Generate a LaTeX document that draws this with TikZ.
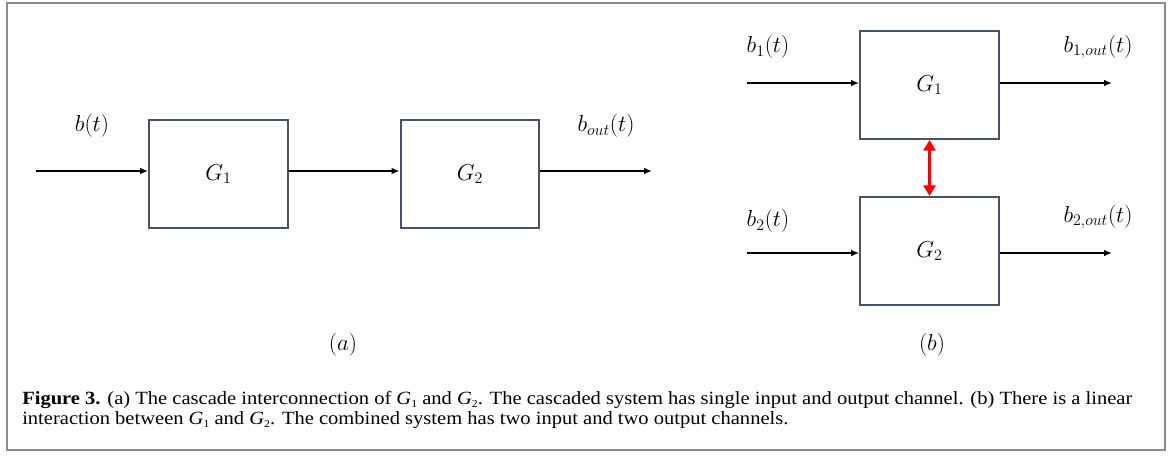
\documentclass[tikz,border=0pt]{standalone}
\usepackage{fontspec}
\setmainfont{Liberation Serif}
\usetikzlibrary{arrows.meta}

\definecolor{boxgray}{HTML}{44546A}
\newcommand{\capG}[1]{\textit{G}\raisebox{-0.35ex}{\footnotesize #1}}

\tikzset{
  blk/.style={draw=boxgray, line width=1.5pt, minimum width=104pt, minimum height=81pt, inner sep=0pt},
  sig/.style={line width=1.4pt, -{Latex[length=6pt,width=5pt]}},
  lbl/.style={font=\fontsize{17}{19}\selectfont},
  link/.style={red, line width=2.6pt, {Triangle[length=8pt,width=9pt]}-{Triangle[length=8pt,width=9pt]}}
}

\begin{document}
\begin{tikzpicture}[x=0.75pt, y=-0.75pt]
		%%%%% START %%%%%
		\useasboundingbox (0, 0) rectangle (1168, 455);
		\draw[line width=1.5pt, color=black!45] (7, 3) rectangle (1165, 450);
		
		% (a) cascade
		\node[blk, lbl] (G1a) at (218.5, 174) {$G_1$};
		\node[blk, lbl] (G2a) at (470, 174) {$G_2$};
		\coordinate (ina) at (36, 171);
		\coordinate (outa) at (652, 171);
		\draw[sig] (ina) -- (ina -| G1a.west);
		\draw[sig] (ina -| G1a.east) -- (ina -| G2a.west);
		\draw[sig] (ina -| G2a.east) -- (outa);
		\node[lbl] (bin) at (92, 126) {$b(t)$};
		\node[lbl] (bout) at (606, 126) {$b_{out}(t)$};
		\node[lbl] (taga) at (343, 345) {$(a)$};
		
		% (b) interaction
		\node[blk, lbl] (G1b) at (929.5, 85) {$G_1$};
		\node[blk, lbl] (G2b) at (929.5, 251) {$G_2$};
		\coordinate (in1) at (747, 83);
		\coordinate (out1) at (1112, 83);
		\coordinate (in2) at (747, 253);
		\coordinate (out2) at (1112, 253);
		\draw[sig] (in1) -- (in1 -| G1b.west);
		\draw[sig] (in1 -| G1b.east) -- (out1);
		\draw[sig] (in2) -- (in2 -| G2b.west);
		\draw[sig] (in2 -| G2b.east) -- (out2);
		\draw[link] (G1b.south) -- (G2b.north);
		\node[lbl] (b1in) at (768, 47) {$b_1(t)$};
		\node[lbl] (b1out) at (1098, 47) {$b_{1,out}(t)$};
		\node[lbl] (b2in) at (768, 221) {$b_2(t)$};
		\node[lbl] (b2out) at (1098, 217) {$b_{2,out}(t)$};
		\node[lbl] (tagb) at (932, 345) {$(b)$};
		
		% caption
		\node[anchor=north west, inner sep=0pt] (cap) at (22, 391)
		  {\scalebox{1.1}[1]{\parbox{1200pt}{\fontsize{14}{15}\selectfont
		   \textbf{Figure 3.} (a) The cascade interconnection of \capG{1} and \capG{2}. The cascaded system has single input and output channel. (b) There is a linear\\
		   interaction between \capG{1} and \capG{2}. The combined system has two input and two output channels.}}};
		%%%%% END %%%%%
\end{tikzpicture}
\end{document}
